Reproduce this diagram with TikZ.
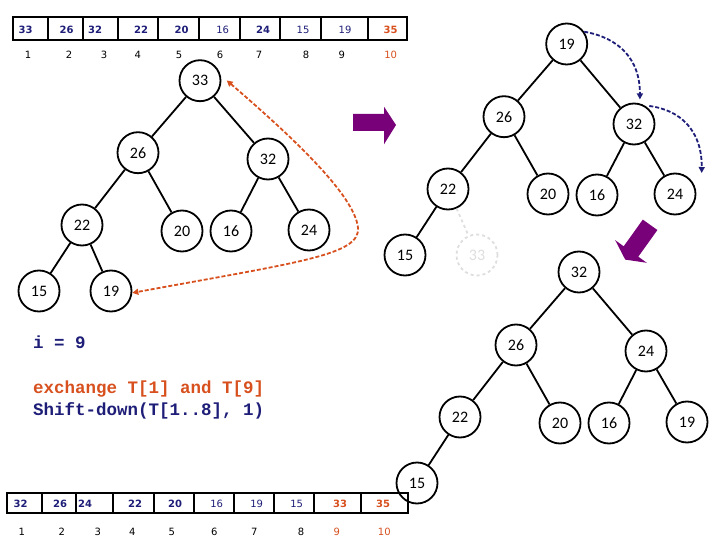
\documentclass[tikz,border=0pt]{standalone}
\usepackage{fontspec}
\setmainfont{Carlito}
\newfontfamily\arrfont{DejaVu Sans}
\newfontfamily\codefont{Liberation Mono}
\usetikzlibrary{arrows.meta,calc}
\definecolor{navyc}{RGB}{30,30,120}
\definecolor{orngc}{RGB}{215,80,30}
\definecolor{purp}{RGB}{120,0,120}
\definecolor{fadec}{RGB}{222,222,222}
\begin{document}
\begin{tikzpicture}[x=1pt,y=-1pt,
  nd/.style={circle,draw,line width=1.8pt,minimum size=41pt,inner sep=0pt,font=\fontsize{16}{16}\selectfont},
  ghost/.style={nd,draw=fadec,dashed,text=fadec},
  edge/.style={line width=1.8pt},
  ghostedge/.style={line width=1.8pt,draw=fadec,dashed},
  val/.style={font=\arrfont\bfseries\fontsize{10}{10}\selectfont,text=navyc,inner sep=0pt},
  valn/.style={font=\arrfont\fontsize{10}{10}\selectfont,text=navyc,inner sep=0pt},
  valo/.style={font=\arrfont\bfseries\fontsize{10}{10}\selectfont,text=orngc,inner sep=0pt},
  idx/.style={font=\arrfont\fontsize{10}{10}\selectfont,inner sep=0pt},
  idxo/.style={font=\arrfont\fontsize{10}{10}\selectfont,text=orngc,inner sep=0pt},
  arr/.style={line width=2pt},
  code/.style={font=\codefont\bfseries\fontsize{17.5}{20}\selectfont,inner sep=0pt,anchor=base west},
  bluedash/.style={draw=navyc,line width=1.8pt,dash pattern=on 4pt off 2pt,-{Triangle[length=6pt,width=6pt]}},
  orngdash/.style={draw=orngc,line width=1.8pt,dash pattern=on 4pt off 2pt,{Triangle[length=6pt,width=6pt]}-{Triangle[length=6pt,width=6pt]}}
]
\useasboundingbox (0,0) rectangle (720,540);

% ---------- top array ----------
\draw[arr] (13.3,17.3) rectangle (407,40);
\foreach \x in {48.3,82.7,118.3,158.3,199,240,280,320.7,367.7}
  \draw[arr] (\x,17.3) -- (\x,40);
\foreach \x/\t/\s [count=\i] in {25.7/33/val,66.7/26/val,95/32/val,141/22/val,181.7/20/val,222.7/16/valn,263/24/val,303/15/valn,345/19/valn,390.7/35/valo}
  \node[\s] (ta\i) at (\x,30) {\t};
\foreach \x/\s [count=\i] in {28/idx,69/idx,104/idx,137.7/idx,179/idx,220/idx,259/idx,306/idx,341.7/idx,390.7/idxo}
  \node[\s,anchor=base] (ti\i) at (\x,59) {\i};

% ---------- bottom array ----------
\draw[arr] (7.3,493.3) rectangle (408,513.3);
\foreach \x in {41.7,76,112.7,154.3,194.3,234.3,274.3,314.3,361}
  \draw[arr] (\x,493.3) -- (\x,513.3);
\foreach \x/\t/\s [count=\i] in {20.7/32/val,60/26/val,85/24/val,135/22/val,175/20/val,216.7/16/valn,256.7/19/valn,296.7/15/valn,340/33/valo,383/35/valo}
  \node[\s] (ba\i) at (\x,504) {\t};
\foreach \x/\s [count=\i] in {21.7/idx,61.7/idx,97.7/idx,132.3/idx,171.7/idx,214.3/idx,254.3/idx,301/idx,336.7/idxo,384.3/idxo}
  \node[\s,anchor=base] (bi\i) at (\x,535.5) {\i};

% ---------- left tree ----------
\node[nd] (L33) at (200,80.7) {33};
\node[nd] (L26) at (138,152.7) {26};
\node[nd] (L32) at (268,159) {32};
\node[nd] (L22) at (82,225) {22};
\node[nd] (L20) at (182,231) {20};
\node[nd] (L16) at (231,231) {16};
\node[nd] (L24) at (309,230) {24};
\node[nd] (L15) at (39,291) {15};
\node[nd] (L19) at (111,291) {19};
\draw[edge] (L33) -- (L26); \draw[edge] (L33) -- (L32);
\draw[edge] (L26) -- (L22); \draw[edge] (L26) -- (L20);
\draw[edge] (L32) -- (L16); \draw[edge] (L32) -- (L24);
\draw[edge] (L22) -- (L15); \draw[edge] (L22) -- (L19);

% ---------- top right tree ----------
\node[nd] (R19) at (566.7,44) {19};
\node[nd] (R26) at (504,116.7) {26};
\node[nd] (R32) at (634,124) {32};
\node[nd] (R22) at (448,189) {22};
\node[nd] (R20) at (548,194) {20};
\node[nd] (R16) at (597,195) {16};
\node[nd] (R24) at (675,194) {24};
\node[nd] (R15) at (405,255) {15};
\node[ghost] (R33) at (477,255) {33};
\draw[edge] (R19) -- (R26); \draw[edge] (R19) -- (R32);
\draw[edge] (R26) -- (R22); \draw[edge] (R26) -- (R20);
\draw[edge] (R32) -- (R16); \draw[edge] (R32) -- (R24);
\draw[edge] (R22) -- (R15); \draw[ghostedge] (R22) -- (R33);

% ---------- bottom right tree ----------
\node[nd] (B32) at (579,272) {32};
\node[nd] (B26) at (516,345) {26};
\node[nd] (B24) at (646,351) {24};
\node[nd] (B22) at (460,417) {22};
\node[nd] (B20) at (560,423) {20};
\node[nd] (B16) at (609,423) {16};
\node[nd] (B19) at (687,422) {19};
\node[nd] (B15) at (417,483) {15};
\draw[edge] (B32) -- (B26); \draw[edge] (B32) -- (B24);
\draw[edge] (B26) -- (B22); \draw[edge] (B26) -- (B20);
\draw[edge] (B24) -- (B16); \draw[edge] (B24) -- (B19);
\draw[edge] (B22) -- (B15);

% ---------- dashed arrows ----------
\draw[orngdash,shorten <=8pt] (L33.15) .. controls (290,135) and (355,195) .. (358,228)
   .. controls (360,255) and (300,262) .. (L19.-5);
\draw[bluedash,shorten >=4pt] (R19.35) .. controls (620,38) and (640,60) .. (R32.74);
\coordinate (bend) at (701.7,173);
\draw[bluedash,shorten <=5pt] (R32.61) .. controls (680,110) and (702,130) .. (bend);

% ---------- purple arrows ----------
\fill[purp] (353,114) -- (384,114) -- (384,106.7) -- (396,125) -- (384,144.3) -- (384,131) -- (353,131) -- cycle;
\fill[purp] (642.8,219.6) -- (657.4,230) -- (638.3,256.7) -- (646.8,262.8) -- (625.2,259.6) -- (615.2,240.2) -- (623.7,246.3) -- cycle;

% ---------- code ----------
\node[code,text=navyc] (ci) at (33,348) {i = 9};
\node[code,text=orngc] (cx) at (33,393) {exchange T[1] and T[9]};
\node[code,text=navyc] (cs) at (33,415) {Shift-down(T[1..8], 1)};
\end{tikzpicture}
\end{document}
